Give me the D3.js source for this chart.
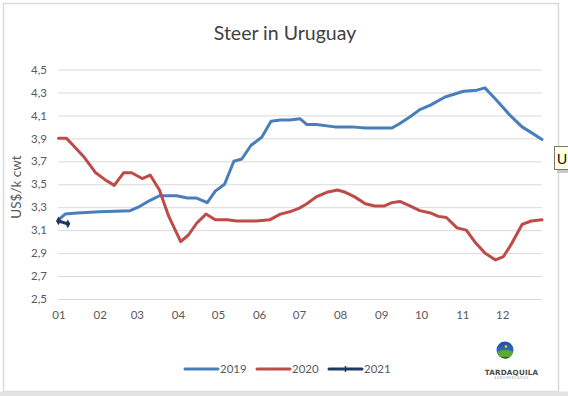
<!DOCTYPE html>
<html>
<head>
<meta charset="utf-8">
<script src="https://cdn.jsdelivr.net/npm/d3@7"></script>
<style>
  html, body { margin: 0; padding: 0; background: #fff; }
  svg { display: block; font-family: Lato, "Open Sans", sans-serif; }
</style>
</head>
<body>
<svg id="chart" width="568" height="396"></svg>
<script>
// ---- data (day of year, US$/k cwt) ----
const monthLabels = ["01","02","03","04","05","06","07","08","09","10","11","12"];
const monthStartDays = [1,32,60,91,121,152,182,213,244,274,305,335];
const yTicks = [2.5,2.7,2.9,3.1,3.3,3.5,3.7,3.9,4.1,4.3,4.5];
const seriesNames = ["2019","2020","2021"];

const days2019 = [1,6,15,32,55,61,70,77,90,98,105,113,119,126,133,139,146,154,161,168,175,183,188,195,209,222,232,252,258,266,273,281,292,306,316,322,331,341,350,357,365];
const vals2019 = [3.19,3.24,3.25,3.26,3.27,3.30,3.36,3.40,3.40,3.38,3.38,3.34,3.44,3.50,3.70,3.72,3.84,3.91,4.05,4.06,4.06,4.07,4.02,4.02,4.00,4.00,3.99,3.99,4.03,4.09,4.15,4.19,4.26,4.31,4.32,4.34,4.23,4.10,4.00,3.95,3.89];

const days2020 = [1,7,12,20,29,36,43,50,56,64,70,77,84,93,99,105,112,119,128,135,150,160,168,175,182,188,195,203,211,217,224,232,239,246,252,258,266,273,281,287,293,301,308,315,322,330,336,342,350,357,365];
const vals2020 = [3.90,3.90,3.84,3.74,3.60,3.54,3.49,3.60,3.60,3.55,3.58,3.45,3.22,3.00,3.06,3.16,3.24,3.19,3.19,3.18,3.18,3.19,3.24,3.26,3.29,3.33,3.39,3.43,3.45,3.43,3.39,3.33,3.31,3.31,3.34,3.35,3.31,3.27,3.25,3.22,3.21,3.12,3.10,2.99,2.90,2.84,2.87,2.98,3.15,3.18,3.19];

const days2021 = [1,8];
const vals2021 = [3.18,3.155];

const colors = ["#4A7EBB", "#BE4B48", "#1F3864"];

// ---- setup ----
const svg = d3.select("#chart");
const x = d3.scaleLinear().domain([1, 365]).range([58.5, 542]);
const y = d3.scaleLinear().domain([2.5, 4.5]).range([299, 69.5]);
const comma = v => d3.format(".1f")(v).replace(".", ",");

// chart frame
svg.append("rect").attr("x", 3.5).attr("y", 3.5).attr("width", 555).attr("height", 388)
  .attr("fill", "#fff").attr("stroke", "#d9d9d9").attr("stroke-width", 1.5);
svg.append("rect").attr("x", 0).attr("y", 391.5).attr("width", 568).attr("height", 5)
  .attr("fill", "#e3e3e3");

// title
svg.append("text").attr("x", 285).attr("y", 40).attr("text-anchor", "middle")
  .attr("font-size", 19.5).attr("fill", "#404040").text("Steer in Uruguay");

// y grid + labels
const yAxis = svg.append("g").attr("transform", `translate(${x.range()[0] - 0.5},0)`)
  .call(d3.axisLeft(y).tickValues(yTicks).tickFormat(comma)
    .tickSize(-(x.range()[1] - x.range()[0] + 0.5)).tickPadding(11));
yAxis.select(".domain").remove();
yAxis.selectAll(".tick line").attr("stroke", "#d9d9d9").attr("stroke-width", 1);
yAxis.selectAll(".tick text").attr("fill", "#595959").attr("font-size", 11.5)
  .attr("font-family", "Lato, sans-serif");

// x labels
const xAxis = svg.append("g").attr("transform", `translate(0,${y(2.5)})`)
  .call(d3.axisBottom(x).tickValues(monthStartDays)
    .tickFormat((d, i) => monthLabels[i]).tickSize(0).tickPadding(12));
xAxis.select(".domain").remove();
xAxis.selectAll(".tick text").attr("fill", "#595959").attr("font-size", 11.5)
  .attr("font-family", "Lato, sans-serif");

// y axis title
svg.append("text").attr("transform", "translate(21,187) rotate(-90)")
  .attr("text-anchor", "middle").attr("font-size", 13.5).attr("fill", "#595959")
  .text("US$/k cwt");

// lines
const line = d3.line().x(d => x(d[0])).y(d => y(d[1]));
const series = [
  d3.zip(days2019, vals2019),
  d3.zip(days2020, vals2020),
  d3.zip(days2021, vals2021)
];
series.forEach((s, i) => {
  svg.append("path").datum(s).attr("d", line).attr("fill", "none")
    .attr("stroke", colors[i]).attr("stroke-width", 3)
    .attr("stroke-linejoin", "round").attr("stroke-linecap", "round");
});
// 2021 markers
svg.append("g").selectAll("path").data(series[2]).join("path")
  .attr("d", d3.symbol(d3.symbolDiamond, 22))
  .attr("transform", d => `translate(${x(d[0])},${y(d[1])})`)
  .attr("fill", colors[2]);

// legend
const legendX = [185, 257, 329];
const lg = svg.append("g");
seriesNames.forEach((name, i) => {
  lg.append("line").attr("x1", legendX[i]).attr("x2", legendX[i] + 33)
    .attr("y1", 369).attr("y2", 369).attr("stroke", colors[i]).attr("stroke-width", 3)
    .attr("stroke-linecap", "round");
  if (i === 2) {
    lg.append("line").attr("x1", legendX[i] + 16.5).attr("x2", legendX[i] + 16.5)
      .attr("y1", 366).attr("y2", 372).attr("stroke", colors[i]).attr("stroke-width", 1.5);
  }
  lg.append("text").attr("x", legendX[i] + 35).attr("y", 373).attr("font-size", 11.5)
    .attr("fill", "#595959").text(name);
});

// logo
const logo = svg.append("g");
const defs = svg.append("defs");
const grad = defs.append("linearGradient").attr("id", "sky").attr("x1", 0).attr("x2", 0).attr("y1", 0).attr("y2", 1);
grad.append("stop").attr("offset", "0%").attr("stop-color", "#1d4e9e");
grad.append("stop").attr("offset", "100%").attr("stop-color", "#3d86c8");
defs.append("clipPath").attr("id", "logoClip").append("circle").attr("cx", 505).attr("cy", 350).attr("r", 8.5);
logo.append("circle").attr("cx", 505).attr("cy", 350).attr("r", 8.5).attr("fill", "url(#sky)");
const cl = logo.append("g").attr("clip-path", "url(#logoClip)");
cl.append("ellipse").attr("cx", 505).attr("cy", 357).attr("rx", 11).attr("ry", 7).attr("fill", "#5aa832");
cl.append("ellipse").attr("cx", 505).attr("cy", 362).attr("rx", 12).attr("ry", 5).attr("fill", "#6b3a1f");
logo.append("circle").attr("cx", 506).attr("cy", 346.5).attr("r", 1.3).attr("fill", "#f2d21b");
logo.append("text").attr("x", 511.5).attr("y", 374.5).attr("text-anchor", "middle")
  .attr("font-size", 7.2).attr("font-weight", "bold").attr("fill", "#4a4a4a")
  .attr("font-family", "DejaVu Sans, sans-serif").attr("letter-spacing", 0.2).text("TARDAQUILA");
logo.append("text").attr("x", 511.5).attr("y", 379).attr("text-anchor", "middle")
  .attr("font-size", 3).attr("fill", "#9a9a9a").attr("letter-spacing", 0.8).text("AGROMERCADOS");

// tooltip fragment at right edge
svg.append("rect").attr("x", 557).attr("y", 149).attr("width", 14).attr("height", 24)
  .attr("fill", "#c8c8c8");
svg.append("rect").attr("x", 554.5).attr("y", 146.5).attr("width", 16).attr("height", 23)
  .attr("fill", "#ffffe1").attr("stroke", "#767676").attr("stroke-width", 1);
svg.append("text").attr("x", 557).attr("y", 164).attr("font-size", 14).attr("fill", "#000")
  .attr("font-family", "Liberation Sans, sans-serif").text("U");
</script>
</body>
</html>
